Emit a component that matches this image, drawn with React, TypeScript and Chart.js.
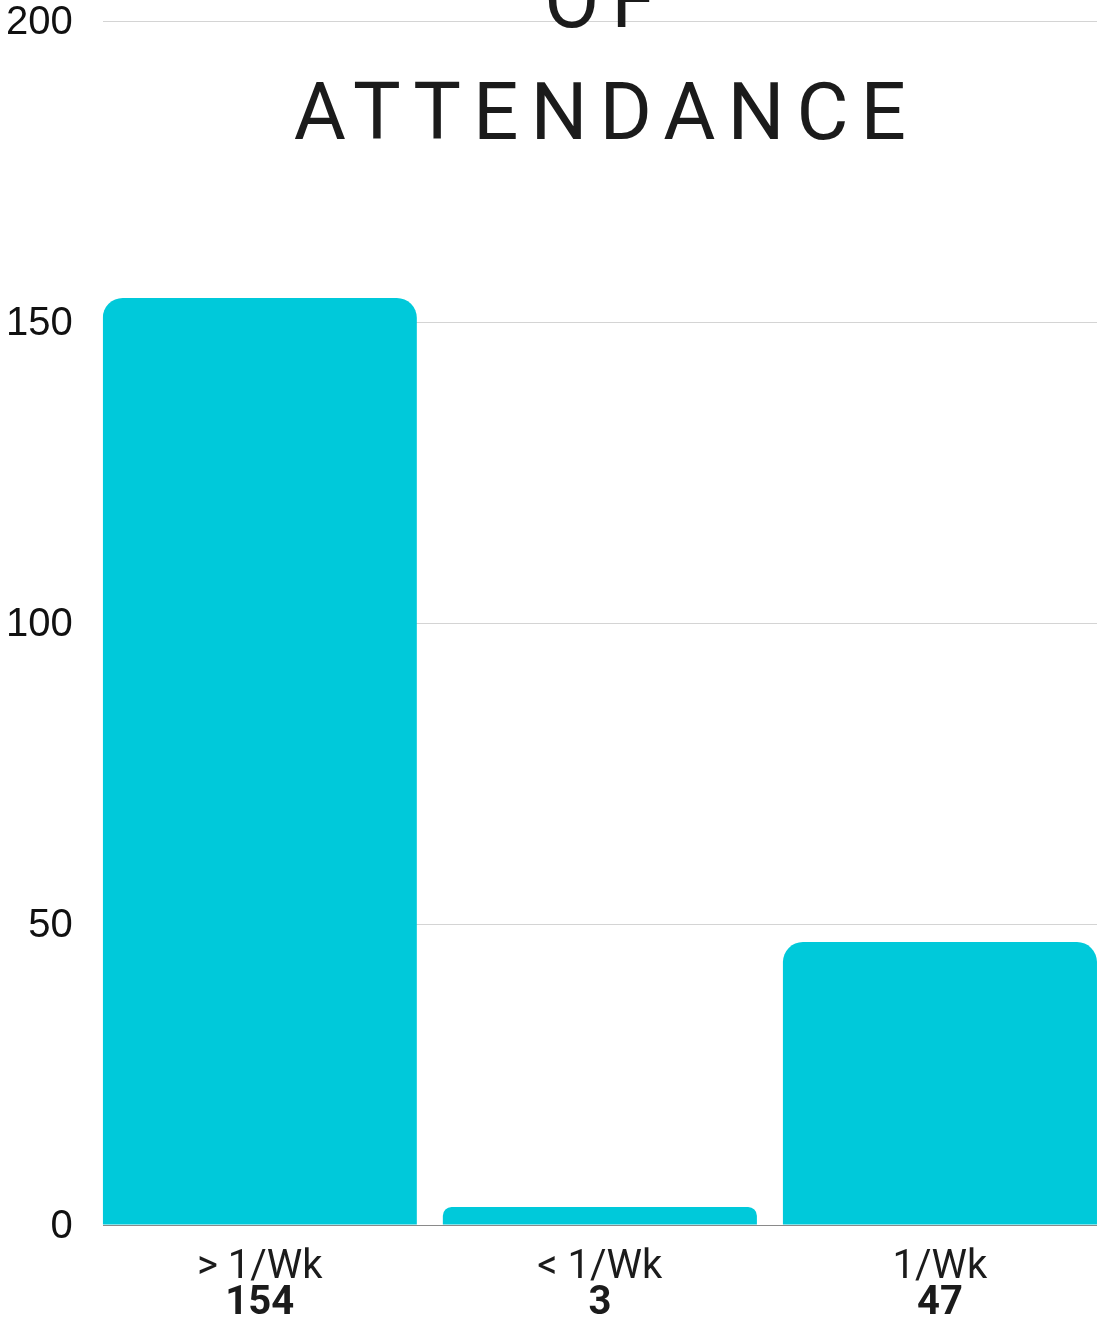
import React, { useEffect, useRef } from "react";
import { Chart, registerables } from "chart.js";

Chart.register(...registerables);

const CATEGORIES = ["> 1/Wk", "< 1/Wk", "1/Wk"];
const COUNTS = [154, 3, 47];
const Y_MIN = 0;
const Y_MAX = 200;
const Y_STEP = 50;
const TITLE_LINES = ["OF", "ATTENDANCE"];

const BAR_COLOR = "#00C9DA";
const TEXT_COLOR = "#1b1b1b";
const X_EDGE = 0.4618; // category offset so the outer bars meet the plot edges

export default function App() {
  const ref = useRef<HTMLCanvasElement>(null);

  useEffect(() => {
    if (!ref.current) return;

    const titlePlugin = {
      id: "overlayTitle",
      afterDraw(chart: any) {
        const ctx = chart.ctx as CanvasRenderingContext2D;
        ctx.save();
        ctx.font = "80px Roboto";
        ctx.fillStyle = TEXT_COLOR;
        ctx.textAlign = "center";
        ctx.textBaseline = "alphabetic";
        (ctx as any).letterSpacing = "12px";
        const cx = (chart.chartArea.left + chart.chartArea.right) / 2 + 6;
        const n = TITLE_LINES.length;
        TITLE_LINES.forEach((t, i) => {
          ctx.fillText(t, cx, 139 - (n - 1 - i) * 112);
        });
        ctx.restore();
      },
    };

    const xAxis = (labels: (string | number)[], bold: boolean, gap: number, weight: number) => ({
      type: "linear" as const,
      position: "bottom" as const,
      min: -X_EDGE,
      max: labels.length - 1 + X_EDGE,
      bounds: "data" as const,
      offset: false,
      weight,
      grid: {
        display: true,
        drawOnChartArea: false,
        drawTicks: true,
        tickLength: gap,
        color: "transparent",
        tickColor: "transparent",
      },
      border: { display: false },
      afterBuildTicks: (scale: any) => {
        scale.ticks = labels.map((_, i) => ({ value: i }));
      },
      ticks: {
        autoSkip: false,
        maxRotation: 0,
        minRotation: 0,
        padding: 0,
        color: TEXT_COLOR,
        font: { family: "Roboto", size: 40, weight: bold ? "bold" : "normal", lineHeight: 0.8 },
        callback: (v: any) => String(labels[Math.round(Number(v))] ?? ""),
      },
    });

    const chart = new Chart(ref.current, {
      type: "bar",
      data: {
        datasets: [
          {
            data: COUNTS.map((y, i) => ({ x: i, y })),
            backgroundColor: BAR_COLOR,
            borderRadius: 20,
            borderSkipped: "bottom",
            barPercentage: 0.9235,
            categoryPercentage: 1,
            xAxisID: "x",
            yAxisID: "y",
          },
        ],
      },
      options: {
        animation: false,
        responsive: true,
        maintainAspectRatio: false,
        layout: { padding: { left: 6, right: 3, top: 0, bottom: 3 } },
        plugins: {
          legend: { display: false },
          tooltip: { enabled: false },
          title: { display: false },
        },
        scales: {
          x: xAxis(CATEGORIES, false, 26.5, 1),
          x2: xAxis(COUNTS, true, 4.5, 2),
          y: {
            min: Y_MIN,
            max: Y_MAX,
            border: { display: false },
            grid: {
              drawTicks: true,
              tickLength: 30,
              tickColor: "transparent",
              color: (c: any) => (c.tick && c.tick.value === 0 ? "#8a8a8a" : "#d4d4d4"),
              lineWidth: 1,
            },
            ticks: {
              stepSize: Y_STEP,
              padding: 0,
              labelOffset: 2,
              color: "#111111",
              font: { family: "Liberation Sans", size: 40, lineHeight: 1.05 },
            },
          },
        },
      },
      plugins: [titlePlugin],
    } as any);

    return () => chart.destroy();
  }, []);

  return (
    <div style={{ position: "absolute", left: 0, top: 0, width: 1100, height: 1323 }}>
      <canvas ref={ref} />
    </div>
  );
}
